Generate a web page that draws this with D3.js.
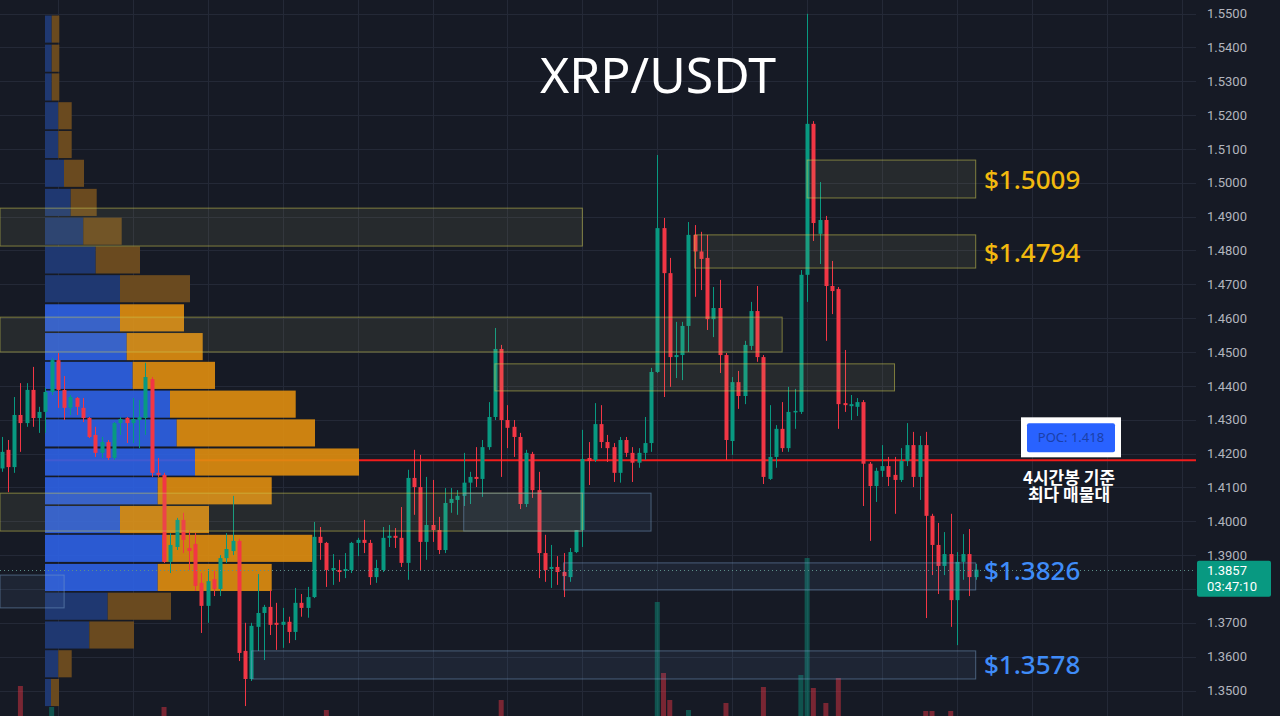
<!DOCTYPE html>
<html><head><meta charset="utf-8">
<script src="https://cdn.jsdelivr.net/npm/d3@7"></script>
<style>html,body{margin:0;padding:0;background:#161a25;overflow:hidden}</style>
</head><body><svg id="c" width="1280" height="716"></svg>
<script>
// ---- DATA ----
const ohlc = [
[1.4156,1.4249,1.4146,1.4205],[1.4211,1.4240,1.4086,1.4160],[1.4160,1.4367,1.4143,1.4314],[1.4314,1.4408,1.4205,1.4290],
[1.4290,1.4408,1.4279,1.4388],[1.4388,1.4456,1.4279,1.4305],[1.4305,1.4338,1.4261,1.4323],[1.4323,1.4394,1.4261,1.4382],
[1.4382,1.4482,1.4373,1.4476],[1.4476,1.4497,1.4335,1.4388],[1.4388,1.4429,1.4299,1.4335],[1.4335,1.4373,1.4314,1.4367],
[1.4364,1.4367,1.4314,1.4338],[1.4335,1.4364,1.4293,1.4305],[1.4305,1.4308,1.4246,1.4249],[1.4255,1.4279,1.4190,1.4202],
[1.4202,1.4249,1.4187,1.4234],[1.4234,1.4240,1.4181,1.4187],[1.4187,1.4293,1.4181,1.4290],[1.4290,1.4308,1.4255,1.4302],
[1.4305,1.4308,1.4231,1.4290],[1.4290,1.4364,1.4231,1.4302],[1.4299,1.4358,1.4216,1.4308],[1.4305,1.4468,1.4255,1.4426],
[1.4420,1.4426,1.4131,1.4143],[1.4143,1.4187,1.4131,1.4137],[1.4137,1.4143,1.3877,1.3880],[1.3880,1.3965,1.3847,1.3930],
[1.3924,1.4010,1.3915,1.4004],[1.4004,1.4025,1.3906,1.3945],[1.3921,1.3974,1.3856,1.3912],[1.3933,1.3965,1.3794,1.3809],
[1.3818,1.3847,1.3670,1.3750],[1.3750,1.3859,1.3700,1.3823],[1.3829,1.3853,1.3779,1.3800],[1.3800,1.3900,1.3779,1.3891],
[1.3891,1.3965,1.3877,1.3918],[1.3912,1.4075,1.3900,1.3942],[1.3942,1.3948,1.3587,1.3611],[1.3617,1.3700,1.3454,1.3534],
[1.3534,1.3700,1.3528,1.3691],[1.3688,1.3844,1.3617,1.3729],[1.3729,1.3753,1.3590,1.3747],[1.3747,1.3797,1.3664,1.3694],
[1.3700,1.3759,1.3620,1.3694],[1.3694,1.3744,1.3626,1.3703],[1.3703,1.3718,1.3640,1.3673],[1.3673,1.3803,1.3649,1.3759],
[1.3759,1.3785,1.3718,1.3744],[1.3744,1.3806,1.3715,1.3776],[1.3776,1.3998,1.3773,1.3954],[1.3954,1.3983,1.3886,1.3936],
[1.3936,1.3939,1.3806,1.3856],[1.3856,1.3903,1.3812,1.3862],[1.3856,1.3886,1.3821,1.3850],[1.3853,1.3906,1.3832,1.3859],
[1.3856,1.3939,1.3847,1.3936],[1.3936,1.3951,1.3897,1.3945],[1.3945,1.4004,1.3906,1.3936],[1.3936,1.3945,1.3812,1.3835],
[1.3835,1.3886,1.3818,1.3862],[1.3856,1.3983,1.3850,1.3951],[1.3951,1.3989,1.3924,1.3957],[1.3957,1.3980,1.3921,1.3951],
[1.3951,1.4042,1.3865,1.3877],[1.3877,1.4152,1.3827,1.4128],[1.4128,1.4211,1.4019,1.4101],[1.4101,1.4196,1.3856,1.3939],
[1.3939,1.4131,1.3886,1.3989],[1.3989,1.4122,1.3939,1.3974],[1.3974,1.4013,1.3903,1.3915],[1.3915,1.4098,1.3906,1.4054],
[1.4054,1.4098,1.4025,1.4066],[1.4063,1.4092,1.4019,1.4075],[1.4075,1.4202,1.4045,1.4114],[1.4114,1.4146,1.4051,1.4131],
[1.4131,1.4219,1.4101,1.4125],[1.4125,1.4240,1.4072,1.4219],[1.4219,1.4352,1.4211,1.4308],[1.4308,1.4571,1.4299,1.4509],
[1.4509,1.4521,1.4131,1.4299],[1.4299,1.4343,1.4216,1.4276],[1.4279,1.4299,1.4190,1.4249],[1.4249,1.4261,1.4036,1.4051],
[1.4051,1.4211,1.4042,1.4202],[1.4199,1.4205,1.4069,1.4092],[1.4092,1.4146,1.3832,1.3906],[1.3906,1.3960,1.3821,1.3856],
[1.3859,1.3930,1.3803,1.3865],[1.3865,1.3897,1.3812,1.3850],[1.3850,1.3906,1.3776,1.3838],[1.3835,1.3921,1.3821,1.3909],
[1.3909,1.3974,1.3906,1.3974],[1.3974,1.4270,1.3924,1.4184],[1.4187,1.4234,1.4107,1.4178],[1.4181,1.4349,1.4175,1.4287],
[1.4287,1.4343,1.4216,1.4234],[1.4234,1.4255,1.4175,1.4216],[1.4219,1.4231,1.4116,1.4143],[1.4143,1.4249,1.4114,1.4240],
[1.4240,1.4249,1.4190,1.4202],[1.4202,1.4219,1.4116,1.4173],[1.4173,1.4216,1.4158,1.4202],[1.4202,1.4308,1.4181,1.4231],
[1.4231,1.4453,1.4205,1.4441],[1.4441,1.5082,1.4438,1.4866],[1.4866,1.4896,1.4367,1.4733],[1.4733,1.4778,1.4397,1.4485],
[1.4485,1.4589,1.4423,1.4491],[1.4491,1.4589,1.4417,1.4577],[1.4577,1.4884,1.4500,1.4846],[1.4846,1.4875,1.4663,1.4797],
[1.4797,1.4855,1.4683,1.4775],[1.4778,1.4846,1.4565,1.4597],[1.4597,1.4692,1.4544,1.4630],[1.4630,1.4713,1.4438,1.4491],
[1.4491,1.4497,1.4181,1.4240],[1.4237,1.4426,1.4196,1.4411],[1.4411,1.4444,1.4332,1.4370],[1.4370,1.4533,1.4346,1.4521],
[1.4518,1.4648,1.4506,1.4621],[1.4621,1.4695,1.4471,1.4485],[1.4485,1.4491,1.4110,1.4131],[1.4125,1.4343,1.4122,1.4190],
[1.4190,1.4284,1.4158,1.4273],[1.4273,1.4352,1.4205,1.4216],[1.4216,1.4397,1.4205,1.4323],[1.4323,1.4391,1.4273,1.4326],
[1.4323,1.4742,1.4317,1.4728],[1.4728,1.5499,1.4648,1.5174],[1.5174,1.5182,1.4828,1.4881],[1.4849,1.5002,1.4760,1.4890],
[1.4890,1.4902,1.4533,1.4695],[1.4695,1.4769,1.4612,1.4680],[1.4686,1.4692,1.4273,1.4346],[1.4349,1.4506,1.4323,1.4343],
[1.4340,1.4373,1.4299,1.4346],[1.4338,1.4364,1.4311,1.4352],[1.4352,1.4358,1.4045,1.4170],[1.4170,1.4175,1.3942,1.4104],
[1.4104,1.4158,1.4057,1.4149],[1.4149,1.4225,1.4131,1.4163],[1.4163,1.4190,1.4104,1.4131],[1.4137,1.4190,1.4022,1.4122],
[1.4122,1.4216,1.4116,1.4178],[1.4178,1.4290,1.4163,1.4225],[1.4225,1.4264,1.4101,1.4131],[1.4131,1.4252,1.4063,1.4225],
[1.4225,1.4264,1.3714,1.4016],[1.4016,1.4022,1.3841,1.3930],[1.3930,1.3995,1.3785,1.3868],[1.3868,1.3968,1.3841,1.3903],
[1.3903,1.4022,1.3688,1.3767],[1.3767,1.3909,1.3634,1.3880],[1.3880,1.3962,1.3827,1.3903],[1.3903,1.3977,1.3779,1.3835],
[1.3835,1.3874,1.3827,1.3857]
];
const volumes = [
9,8,12,44,10,11,7,9,23,12, 9,6,6,7,8,9,6,7,8,5, 6,7,6,10,14,12,23,12,9,8,
7,10,11,9,7,8,7,9,13,14, 12,10,8,7,6,6,6,8,6,7, 11,8,20,6,5,5,7,5,6,8,
6,7,5,5,7,12,9,11,8,7, 7,8,5,5,7,5,6,8,10,14, 30,10,8,12,9,8,12,9,6,5,
6,7,7,13,7,9,8,6,7,7, 5,6,5,7,12,128,57,30,12,10, 20,10,8,12,8,11,27,12,8,10,
9,10,43,12,9,8,10,7,55,172, 42,14,27,9,52,10,7,6,13,12, 8,7,7,8,7,8,9,9,19,19,
12,8,19,13,7,8,3
];
const priceTicks = [1.35,1.36,1.37,1.38,1.39,1.40,1.41,1.42,1.43,1.44,1.45,1.46,1.47,1.48,1.49,1.50,1.51,1.52,1.53,1.54,1.55];
const profileLevels = [1.5494,1.5408,1.5323,1.5238,1.5153,1.5068,1.4982,1.4897,1.4812,1.4727,1.4641,1.4556,
                       1.4471,1.4386,1.4301,1.4215,1.4130,1.4045,1.3960,1.3874,1.3789,1.3704,1.3619,1.3534];
const profileBuy  = [6.7,6.7,6.7,13.3,13.3,19,25.7,38.3,50.7,75,75,81.7,87.7,125,131.7,150,112.7,75,117.3,112.7,62.7,44.3,13.3,6];
const profileSell = [7.6,7.6,7.6,13.4,13.4,20,26,38.4,44.3,70,64,76,82.3,125.7,138.3,164,114,89,150,114,63.3,44.7,13.4,8];
const vaHigh = 1.4641, vaLow = 1.3789;
const poc = 1.418;
const yellowZones = [
  {from:-1, to:93,  top:1.4925, bottom:1.4813},
  {from:-1, to:125, top:1.4603, bottom:1.4500},
  {from:79, to:143, top:1.4465, bottom:1.4385},
  {from:129,to:156, top:1.5067, bottom:1.4955},
  {from:111,to:156, top:1.4846, bottom:1.4748},
  {from:-1, to:93,  top:1.4083, bottom:1.3971}
];
const blueZones = [
  {from:74, to:104, top:1.4083, bottom:1.3971},
  {from:-1, to:10,  top:1.3841, bottom:1.3744},
  {from:90, to:156, top:1.3877, bottom:1.3797},
  {from:40, to:156, top:1.3617, bottom:1.3534}
];
const levelLabels = [
  {price:1.5009, at:1.5009, text:"$1.5009", color:"#f2b90f"},
  {price:1.4794, at:1.4794, text:"$1.4794", color:"#f2b90f"},
  {price:1.3826, at:1.3855, text:"$1.3826", color:"#3f8cf8"},
  {price:1.3578, at:1.3576, text:"$1.3578", color:"#3f8cf8"}
];
const title = "XRP/USDT";
const lastPrice = 1.3857, countdown = "03:47:10";
const pocNote = ["4시간봉 기준", "최다 매물대"];

// ---- DRAW ----
const svg = d3.select("#c");
const W = 1280, H = 716, plotR = 1196;
const UP = "#089981", DN = "#f23645";
const x = d3.scaleLinear().domain([0, 156]).range([1.7, 975.7]);
const y = d3.scaleLinear().domain([1.35, 1.55]).range([690.5, 13.5]);
const vy = d3.scaleLinear().domain([0, 200]).range([730, 530]);
const px = d3.scaleLinear().domain([0, 314]).range([45, 359]);

svg.append("rect").attr("width", W).attr("height", H).attr("fill", "#161a25");
svg.append("defs").append("clipPath").attr("id", "plot")
  .append("rect").attr("x", 0).attr("y", 0).attr("width", plotR).attr("height", H);
const g = svg.append("g").attr("clip-path", "url(#plot)");

// grid
const gridX = d3.range(9, 200, 12);
g.append("g").selectAll("line").data(priceTicks).join("line")
  .attr("x1", 0).attr("x2", plotR).attr("y1", d => Math.round(y(d)) + 0.5).attr("y2", d => Math.round(y(d)) + 0.5)
  .attr("stroke", "#242937").attr("stroke-width", 1);
g.append("g").selectAll("line").data(gridX).join("line")
  .attr("x1", d => Math.round(x(d)) + 0.5).attr("x2", d => Math.round(x(d)) + 0.5).attr("y1", 0).attr("y2", H)
  .attr("stroke", "#242937").attr("stroke-width", 1);

// volume bars
g.append("g").selectAll("rect").data(volumes).join("rect")
  .attr("x", (d, i) => x(i) - 2.5).attr("width", 5)
  .attr("y", d => vy(d)).attr("height", d => vy(0) - vy(d))
  .attr("fill", (d, i) => ohlc[i][3] >= ohlc[i][0] ? UP : DN).attr("opacity", 0.45);

// POC line
g.append("line").attr("x1", px(0)).attr("x2", plotR).attr("y1", y(poc)).attr("y2", y(poc))
  .attr("stroke", "#f21c1c").attr("stroke-width", 2);

// volume profile
const binSize = profileLevels[0] - profileLevels[1];
const prof = g.append("g");
profileLevels.forEach((lv, k) => {
  const inVA = lv <= vaHigh + 1e-6 && (lv - binSize) >= vaLow - 0.001;
  const top = y(lv), bot = y(lv - binSize);
  const h = bot - top - 2;
  prof.append("rect").attr("x", px(0)).attr("y", top).attr("width", px(profileBuy[k]) - px(0)).attr("height", h)
    .attr("fill", inVA ? "#2d62e6" : "#1f3871").attr("opacity", inVA ? 0.9 : 1);
  prof.append("rect").attr("x", px(profileBuy[k])).attr("y", top)
    .attr("width", px(profileBuy[k] + profileSell[k]) - px(profileBuy[k])).attr("height", h)
    .attr("fill", inVA ? "#e08e10" : "#6a4a1f").attr("opacity", inVA ? 0.9 : 1);
});

// candles
const cg = g.append("g");
cg.selectAll("line").data(ohlc).join("line")
  .attr("x1", (d, i) => Math.round(x(i)) + 0.5).attr("x2", (d, i) => Math.round(x(i)) + 0.5)
  .attr("y1", d => y(d[1])).attr("y2", d => y(d[2]))
  .attr("stroke", d => d[3] >= d[0] ? UP : DN).attr("stroke-width", 1);
cg.selectAll("rect").data(ohlc).join("rect")
  .attr("x", (d, i) => Math.round(x(i)) - 1.5).attr("width", 4)
  .attr("y", d => y(Math.max(d[0], d[3])))
  .attr("height", d => Math.max(1.5, Math.abs(y(d[0]) - y(d[3]))))
  .attr("fill", d => d[3] >= d[0] ? UP : DN);

// zones
const zx = i => Math.max(0, x(i));
g.append("g").selectAll("rect").data(yellowZones).join("rect")
  .attr("x", d => zx(d.from)).attr("width", d => x(d.to) - zx(d.from))
  .attr("y", d => y(d.top)).attr("height", d => y(d.bottom) - y(d.top))
  .attr("fill", "rgba(190,190,120,0.10)").attr("stroke", "rgba(205,200,80,0.55)").attr("stroke-width", 1);
g.append("g").selectAll("rect").data(blueZones).join("rect")
  .attr("x", d => zx(d.from)).attr("width", d => x(d.to) - zx(d.from))
  .attr("y", d => y(d.top)).attr("height", d => y(d.bottom) - y(d.top))
  .attr("fill", "rgba(110,150,210,0.09)").attr("stroke", "rgba(120,160,200,0.5)").attr("stroke-width", 1);

// current price dotted line
g.append("line").attr("x1", 0).attr("x2", plotR).attr("y1", Math.round(y(lastPrice)) + 0.5).attr("y2", Math.round(y(lastPrice)) + 0.5)
  .attr("stroke", "#5d8f8a").attr("stroke-width", 1).attr("stroke-dasharray", "1,3");

// level labels
svg.append("g").selectAll("text").data(levelLabels).join("text")
  .attr("x", 984).attr("y", d => y(d.at) + 9.5)
  .attr("fill", d => d.color).attr("font-family", "'Noto Sans', 'Open Sans', sans-serif")
  .attr("font-size", 26).attr("font-weight", 500).text(d => d.text);

// title
svg.append("text").attr("x", 658).attr("y", 93).attr("text-anchor", "middle")
  .attr("fill", "#ffffff").attr("font-family", "'Noto Sans', 'Open Sans', sans-serif")
  .attr("font-size", 50).text(title);

// POC badge
const py = y(poc);
svg.append("rect").attr("x", 1021).attr("y", py - 43).attr("width", 100).attr("height", 40).attr("fill", "#ffffff");
svg.append("rect").attr("x", 1027).attr("y", py - 37).attr("width", 88).attr("height", 29).attr("fill", "#2962ff").attr("rx", 2);
svg.append("text").attr("x", 1071).attr("y", py - 18).attr("text-anchor", "middle")
  .attr("fill", "#1b3fa8").attr("font-family", "'Noto Sans', sans-serif").attr("font-size", 13)
  .text("POC: " + poc.toFixed(3));
const note = svg.append("text").attr("text-anchor", "middle")
  .attr("fill", "#ffffff").attr("font-family", "'Noto Sans CJK KR', sans-serif").attr("font-size", 17).attr("font-weight", 600);
note.selectAll("tspan").data(pocNote).join("tspan")
  .attr("x", 1069).attr("y", (d, i) => py + 24 + i * 17).text(d => d);

// price axis (labels under the last-price badge are hidden, as in the reference)
const ly = y(lastPrice);
const shownTicks = priceTicks.filter(t => Math.abs(y(t) - (ly + 9)) > 14);
const axis = d3.axisRight(y).tickValues(shownTicks).tickSize(0).tickPadding(11).tickFormat(d3.format(".4f"));
const ag = svg.append("g").attr("transform", `translate(${plotR},0)`).call(axis);
ag.select(".domain").remove();
ag.selectAll("text").attr("fill", "#b2b5be").attr("font-family", "Roboto, 'Noto Sans', sans-serif").attr("font-size", 13);

// last price badge
svg.append("rect").attr("x", 1197).attr("y", ly - 9).attr("width", 74).attr("height", 36).attr("fill", UP).attr("rx", 2);
svg.append("text").attr("x", 1207).attr("y", ly + 5).attr("fill", "#ffffff").attr("font-family", "Roboto, sans-serif")
  .attr("font-size", 13).text(lastPrice.toFixed(4));
svg.append("text").attr("x", 1207).attr("y", ly + 21).attr("fill", "#ffffff").attr("font-family", "Roboto, sans-serif")
  .attr("font-size", 13).text(countdown);
</script></body></html>
